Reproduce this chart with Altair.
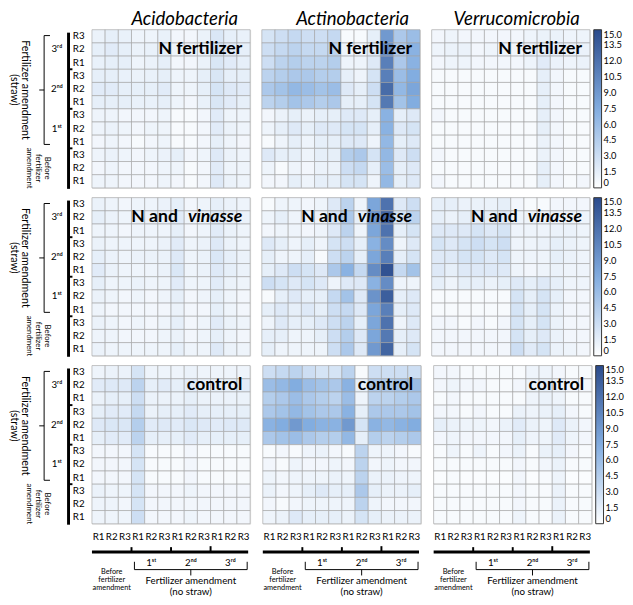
import altair as alt
import pandas as pd

FONT = "Lato"
W, H = 162, 162

TITLES = ["Acidobacteria", "Actinobacteria", "Verrucomicrobia"]
TREATMENTS = ["N fertilizer", "N and vinasse", "control"]
REPS = ["R1", "R2", "R3"]
GROUP_LABELS = ["1ˢᵗ", "2ⁿᵈ", "3ʳᵈ"]
LEGEND_TICKS = [0, 1.5, 3.0, 4.5, 6.0, 7.5, 9.0, 10.5, 12.0, 13.5, 15.0]

# rows: top (3rd R3) -> bottom (Before R1); cols: left (Before R1) -> right (3rd R3)
acido_n = [
    [1.2, 1.5, 1.3, 1.0, 1.0, 1.3, 0.8, 0.8, 1.2, 2.2, 1.5, 1.3],
    [1.5, 1.8, 1.5, 1.2, 1.3, 1.5, 1.0, 1.0, 1.3, 2.5, 1.8, 1.5],
    [1.3, 1.5, 1.5, 1.0, 1.2, 1.5, 0.8, 0.8, 1.2, 2.3, 1.8, 1.5],
    [1.5, 1.5, 1.3, 1.2, 1.3, 1.5, 1.0, 1.0, 1.5, 2.3, 1.5, 1.5],
    [1.8, 1.8, 1.5, 1.5, 1.5, 1.8, 1.0, 1.0, 1.5, 2.5, 2.0, 1.8],
    [1.5, 1.5, 1.5, 1.3, 1.3, 1.5, 1.0, 0.8, 1.3, 2.3, 1.8, 1.5],
    [1.0, 1.0, 0.8, 0.8, 0.8, 1.0, 0.5, 0.5, 0.8, 1.8, 1.0, 1.0],
    [1.0, 1.2, 1.0, 0.8, 1.0, 1.0, 0.5, 0.5, 0.8, 1.8, 1.2, 1.0],
    [0.8, 1.0, 0.8, 0.5, 0.8, 1.0, 0.5, 0.5, 0.8, 1.5, 1.0, 0.8],
    [1.0, 1.2, 1.0, 0.8, 1.0, 1.2, 1.5, 0.8, 1.0, 2.0, 1.2, 1.0],
    [0.8, 1.0, 0.8, 0.8, 0.8, 1.0, 1.0, 0.5, 0.8, 1.8, 1.0, 1.0],
    [1.0, 1.0, 0.8, 0.8, 0.8, 1.0, 0.8, 0.5, 0.8, 2.0, 1.2, 1.0],
]
actino_n = [
    [2.5, 3.0, 3.5, 3.0, 3.0, 3.5, 0.5, 0.5, 1.5, 9.0, 5.0, 6.0],
    [3.0, 3.5, 4.0, 3.5, 3.5, 4.0, 1.0, 0.8, 2.0, 10.0, 5.0, 7.0],
    [3.0, 4.0, 4.5, 4.0, 4.0, 4.5, 1.0, 1.0, 2.0, 11.0, 5.0, 7.0],
    [4.0, 4.5, 5.0, 5.0, 4.5, 4.5, 1.5, 1.0, 2.5, 11.0, 6.0, 7.5],
    [5.0, 5.5, 6.5, 6.0, 5.5, 6.0, 2.0, 1.5, 3.0, 12.5, 6.5, 8.0],
    [4.0, 4.5, 5.5, 5.0, 4.5, 5.0, 1.5, 1.5, 2.5, 11.5, 5.5, 7.5],
    [0.8, 1.2, 1.5, 1.2, 1.5, 1.5, 2.0, 2.0, 1.5, 7.0, 1.5, 2.0],
    [1.0, 1.5, 2.0, 1.5, 2.0, 2.0, 2.5, 2.5, 1.5, 7.0, 2.0, 2.5],
    [0.5, 1.0, 1.5, 1.0, 1.5, 1.5, 2.0, 2.0, 1.0, 6.5, 1.5, 2.0],
    [2.0, 1.5, 1.5, 1.0, 1.5, 1.5, 4.5, 5.0, 2.5, 6.5, 2.0, 3.0],
    [1.0, 0.5, 1.0, 0.8, 1.2, 1.2, 3.0, 3.5, 1.5, 6.0, 1.5, 2.0],
    [0.8, 0.8, 1.5, 1.0, 1.5, 1.5, 2.5, 2.5, 1.0, 6.5, 1.5, 2.0],
]
verruco_n = [
    [0.8, 1.0, 0.8, 0.8, 0.8, 0.8, 0.8, 1.0, 1.2, 1.2, 1.0, 1.0],
    [1.0, 1.2, 1.2, 0.8, 1.0, 1.0, 0.8, 1.2, 1.5, 1.5, 1.2, 1.2],
    [0.8, 1.0, 1.0, 0.8, 0.8, 0.8, 0.8, 1.0, 1.8, 1.2, 1.0, 1.2],
    [0.5, 0.5, 0.5, 0.5, 0.5, 0.5, 0.5, 0.5, 1.5, 0.8, 0.5, 0.5],
    [0.5, 0.5, 0.5, 0.5, 0.5, 0.5, 0.5, 0.5, 1.5, 0.8, 0.5, 0.5],
    [0.5, 0.5, 0.5, 0.5, 0.5, 0.5, 0.5, 0.5, 1.5, 0.8, 0.5, 0.5],
    [0.8, 0.5, 0.5, 0.5, 0.5, 0.5, 0.5, 0.5, 1.5, 0.8, 0.5, 0.5],
    [0.5, 0.5, 0.5, 0.5, 0.5, 0.5, 0.5, 0.5, 1.5, 0.8, 0.5, 0.5],
    [0.5, 0.5, 0.5, 0.5, 0.5, 0.5, 0.5, 0.5, 1.2, 0.8, 0.5, 0.5],
    [0.8, 0.5, 0.5, 0.5, 0.5, 0.5, 0.5, 0.5, 1.2, 0.8, 0.5, 0.5],
    [0.5, 0.5, 0.5, 0.5, 0.5, 0.5, 0.5, 0.5, 1.5, 0.8, 0.5, 0.5],
    [0.8, 0.5, 0.5, 0.5, 0.5, 0.5, 0.5, 0.5, 1.5, 0.8, 0.5, 0.8],
]
acido_v = [
    [1.2, 1.0, 0.8, 1.0, 1.0, 1.2, 1.5, 0.8, 1.0, 1.5, 1.2, 1.0],
    [1.5, 1.2, 1.0, 1.2, 1.2, 1.5, 1.8, 1.0, 1.2, 2.0, 1.5, 1.2],
    [1.0, 1.0, 0.8, 1.0, 1.0, 1.0, 1.5, 0.8, 1.0, 1.8, 1.2, 1.0],
    [1.2, 1.0, 1.0, 1.0, 1.0, 1.2, 1.8, 1.0, 1.2, 2.0, 1.2, 1.0],
    [1.5, 1.2, 1.0, 1.2, 1.2, 1.2, 2.0, 1.0, 1.2, 2.2, 1.5, 1.2],
    [1.8, 1.2, 1.0, 1.0, 1.0, 1.2, 2.2, 1.0, 1.2, 2.0, 1.5, 1.2],
    [1.5, 1.0, 1.0, 1.2, 1.0, 1.0, 1.8, 1.0, 1.0, 1.8, 1.2, 1.0],
    [1.2, 1.0, 0.8, 1.0, 0.8, 1.0, 1.5, 0.8, 1.0, 1.5, 1.0, 0.8],
    [1.0, 0.8, 0.8, 0.8, 0.8, 0.8, 1.2, 0.8, 0.8, 1.5, 1.0, 0.8],
    [1.2, 1.0, 0.8, 1.0, 0.8, 1.0, 1.5, 0.8, 1.0, 1.8, 1.2, 1.0],
    [1.0, 1.0, 0.8, 0.8, 0.8, 1.0, 1.2, 0.8, 1.0, 1.5, 1.0, 0.8],
    [1.2, 1.0, 1.0, 1.0, 1.0, 1.0, 1.5, 1.0, 1.0, 2.0, 1.2, 1.0],
]
actino_v = [
    [0.5, 1.0, 1.0, 0.8, 1.0, 2.0, 4.0, 1.0, 8.0, 12.0, 2.0, 3.0],
    [1.0, 1.5, 1.0, 1.0, 1.0, 2.5, 5.0, 1.5, 9.0, 13.0, 2.5, 4.0],
    [0.8, 1.0, 1.0, 0.8, 1.0, 2.0, 4.0, 1.0, 8.0, 12.0, 1.5, 2.5],
    [2.0, 1.5, 1.0, 1.5, 1.0, 2.5, 3.0, 1.5, 7.0, 10.0, 1.0, 2.0],
    [1.5, 1.0, 1.0, 1.5, 0.5, 3.0, 4.0, 1.5, 8.0, 11.0, 1.5, 2.5],
    [1.5, 2.0, 3.0, 2.5, 2.0, 5.0, 7.0, 3.5, 10.0, 14.5, 3.5, 5.5],
    [3.0, 2.5, 2.0, 2.5, 2.0, 1.0, 2.0, 2.0, 7.0, 10.0, 1.0, 1.0],
    [0.5, 1.5, 2.0, 1.5, 1.5, 3.5, 5.5, 2.0, 9.5, 13.5, 1.5, 2.0],
    [1.5, 2.0, 1.5, 2.0, 1.5, 3.0, 3.5, 2.0, 8.0, 11.0, 1.5, 2.0],
    [1.0, 2.0, 1.5, 1.5, 2.0, 3.0, 4.0, 1.5, 8.0, 12.0, 1.0, 2.0],
    [1.5, 1.5, 1.0, 1.0, 1.5, 3.0, 4.5, 2.0, 8.0, 11.5, 1.5, 2.0],
    [1.5, 1.0, 1.0, 1.0, 1.0, 3.0, 5.0, 2.0, 9.0, 13.0, 1.5, 2.5],
]
verruco_v = [
    [1.5, 1.5, 1.2, 1.2, 1.2, 1.5, 0.8, 0.5, 0.5, 0.8, 0.8, 0.8],
    [1.5, 1.2, 1.5, 1.5, 1.5, 2.0, 1.0, 1.0, 1.0, 1.0, 1.0, 1.0],
    [2.0, 2.0, 2.0, 2.5, 2.0, 2.5, 1.0, 1.0, 1.0, 1.2, 1.2, 1.0],
    [2.5, 2.0, 2.5, 3.0, 2.5, 3.0, 1.0, 1.0, 1.2, 1.5, 1.2, 1.0],
    [2.0, 2.0, 2.5, 2.5, 2.0, 2.5, 1.0, 1.0, 1.0, 1.5, 1.2, 1.0],
    [2.0, 1.5, 2.0, 2.0, 2.0, 2.0, 1.0, 0.8, 1.0, 1.2, 1.0, 1.0],
    [1.5, 1.0, 1.5, 1.5, 1.2, 1.5, 2.0, 1.5, 2.0, 1.5, 1.0, 1.0],
    [0.5, 0.5, 0.5, 0.5, 0.5, 0.5, 2.5, 1.5, 2.5, 1.5, 0.8, 0.8],
    [0.5, 0.5, 0.5, 0.5, 0.5, 0.5, 2.5, 1.5, 2.5, 1.2, 0.8, 0.8],
    [0.8, 0.8, 0.5, 0.8, 0.5, 0.8, 2.5, 1.5, 2.5, 1.2, 0.8, 0.8],
    [0.8, 0.8, 0.8, 0.8, 0.8, 0.8, 2.5, 1.5, 2.0, 1.2, 0.8, 0.8],
    [0.8, 0.8, 0.8, 0.8, 0.8, 0.8, 3.0, 1.8, 2.5, 1.2, 1.0, 0.8],
]
acido_c = [
    [1.0, 1.2, 1.2, 2.5, 1.0, 1.0, 1.0, 1.2, 1.0, 1.0, 1.0, 1.0],
    [1.8, 2.0, 2.0, 4.0, 1.5, 1.8, 1.5, 1.8, 1.5, 1.5, 1.5, 1.8],
    [1.2, 1.5, 1.5, 3.0, 1.2, 1.2, 1.2, 1.5, 1.2, 1.2, 1.2, 1.2],
    [1.5, 1.8, 1.8, 3.5, 1.2, 1.5, 1.5, 1.8, 1.5, 1.5, 1.5, 1.5],
    [2.0, 2.2, 2.2, 4.5, 1.8, 2.0, 1.8, 2.2, 2.0, 1.8, 2.0, 2.0],
    [1.5, 1.8, 1.8, 4.0, 1.5, 1.5, 1.5, 1.8, 1.5, 1.5, 1.5, 1.5],
    [0.8, 0.8, 0.8, 2.5, 0.5, 0.5, 0.5, 0.8, 0.5, 0.5, 0.5, 0.5],
    [0.8, 0.8, 0.8, 2.5, 0.5, 0.5, 0.5, 0.8, 0.5, 0.5, 0.5, 0.5],
    [0.8, 0.8, 0.8, 2.5, 0.5, 0.5, 0.5, 0.8, 0.5, 0.5, 0.5, 0.5],
    [1.2, 1.0, 1.0, 2.5, 0.8, 0.8, 0.8, 1.0, 0.8, 0.8, 0.8, 0.8],
    [1.0, 1.0, 0.8, 2.5, 0.8, 0.8, 0.8, 0.8, 0.8, 0.8, 0.8, 0.8],
    [1.0, 1.0, 1.0, 3.0, 0.8, 0.8, 0.8, 1.0, 0.8, 0.8, 0.8, 0.8],
]
actino_c = [
    [3.0, 3.5, 4.0, 3.0, 2.5, 2.5, 4.0, 0.5, 3.0, 3.0, 3.0, 3.0],
    [6.0, 6.5, 7.5, 6.0, 5.5, 5.0, 7.0, 1.5, 5.0, 5.0, 5.5, 6.0],
    [4.5, 5.0, 6.0, 5.0, 4.5, 4.0, 6.0, 1.0, 4.0, 4.0, 4.5, 5.0],
    [5.0, 5.5, 6.5, 5.5, 5.0, 5.0, 7.0, 1.5, 5.0, 5.0, 5.0, 5.5],
    [7.0, 7.5, 9.0, 7.5, 7.0, 7.0, 9.0, 2.5, 7.0, 6.5, 7.0, 7.5],
    [5.0, 5.5, 6.0, 5.0, 4.5, 4.5, 6.5, 1.5, 4.5, 4.0, 4.5, 5.0],
    [0.5, 0.8, 0.5, 1.0, 1.2, 0.8, 0.5, 4.0, 1.0, 1.0, 0.8, 0.5],
    [0.8, 0.5, 1.0, 0.8, 0.8, 1.0, 0.8, 4.0, 0.8, 1.0, 0.8, 0.8],
    [1.0, 0.8, 1.0, 1.0, 1.0, 1.2, 1.0, 4.0, 1.2, 1.2, 1.0, 1.0],
    [1.2, 0.8, 1.0, 1.5, 2.0, 1.5, 1.5, 5.0, 1.5, 1.2, 1.2, 1.5],
    [0.8, 0.5, 0.8, 1.0, 1.0, 1.0, 1.0, 4.0, 1.0, 0.8, 0.8, 0.8],
    [1.0, 1.2, 2.0, 1.5, 1.5, 1.5, 1.2, 2.5, 1.5, 1.2, 1.2, 1.2],
]
verruco_c = [
    [0.8, 0.8, 0.5, 0.5, 0.5, 0.5, 0.5, 1.0, 1.0, 0.8, 0.5, 0.5],
    [0.8, 1.0, 0.8, 0.8, 0.5, 0.5, 0.8, 1.2, 1.5, 1.0, 0.8, 0.8],
    [0.5, 0.8, 0.5, 0.5, 0.5, 0.5, 0.5, 1.0, 1.2, 1.0, 0.5, 0.5],
    [0.8, 0.8, 0.5, 0.8, 0.5, 0.5, 1.2, 1.0, 1.2, 1.5, 0.8, 0.5],
    [1.5, 1.2, 1.0, 1.0, 0.8, 1.2, 1.8, 1.2, 1.0, 2.0, 1.2, 0.8],
    [0.8, 1.0, 0.8, 0.8, 0.8, 0.8, 1.5, 1.0, 1.0, 1.8, 1.0, 0.8],
    [0.5, 1.0, 0.5, 1.0, 0.5, 0.8, 1.2, 0.5, 1.2, 1.5, 0.8, 0.5],
    [0.5, 0.5, 0.5, 0.5, 0.5, 0.5, 0.8, 0.5, 0.8, 1.2, 0.5, 0.5],
    [0.3, 0.5, 0.3, 0.3, 0.3, 0.3, 0.8, 0.3, 0.5, 1.0, 0.3, 0.3],
    [0.5, 0.5, 0.5, 0.5, 0.5, 0.5, 0.8, 0.5, 0.5, 1.2, 0.5, 0.5],
    [0.5, 0.5, 0.5, 0.5, 0.5, 0.5, 0.8, 0.5, 0.5, 1.2, 0.5, 0.5],
    [0.5, 0.5, 0.5, 0.5, 0.5, 0.5, 1.0, 0.5, 0.5, 1.2, 0.5, 0.5],
]

MATRICES = [
    [acido_n, actino_n, verruco_n],
    [acido_v, actino_v, verruco_v],
    [acido_c, actino_c, verruco_c],
]

COLOR_SCALE = alt.Scale(domain=[0, 7.5, 15], range=["#ffffff", "#82ade0", "#2b4b8c"], interpolate="rgb")
LABEL_EXPR = "['R1','R2','R3'][datum.value % 3]"
TITLE_SHIFT = [14, 12, 6]


def cells(mat):
    recs = []
    for r, row in enumerate(mat):
        for c, v in enumerate(row):
            recs.append({"row": 11 - r, "col": c, "value": v})
    return pd.DataFrame(recs)


def heat(mat, left, bottom, legend_on):
    ax_common = dict(title=None, labelExpr=LABEL_EXPR, ticks=False, domain=False,
                     labelFontSize=10, labelFont=FONT, labelColor="black", grid=False)
    xaxis = alt.Axis(labelAngle=0, labelPadding=8, **ax_common) if bottom else None
    yaxis = alt.Axis(labelPadding=8, **ax_common) if left else None
    legend = alt.Legend(title=None, orient="right", direction="vertical", gradientLength=H,
                        gradientThickness=8, values=LEGEND_TICKS,
                        labelExpr="datum.value == 0 ? '0' : format(datum.value, '.1f')",
                        labelFontSize=9.5, labelFont=FONT, labelColor="black", offset=4,
                        padding=0, gradientStrokeColor="#333", gradientStrokeWidth=1,
                        labelOffset=2, labelOverlap=False)
    return alt.Chart(cells(mat)).mark_rect(stroke="#a0a0a0", strokeWidth=0.6).encode(
        x=alt.X("col:O", scale=alt.Scale(domain=list(range(12)), paddingInner=0, paddingOuter=0), axis=xaxis),
        y=alt.Y("row:O", scale=alt.Scale(domain=list(range(11, -1, -1)), paddingInner=0, paddingOuter=0), axis=yaxis),
        color=alt.Color("value:Q", scale=COLOR_SCALE, legend=legend if legend_on else None),
    )


def text_layer(df, size, line_height, style="normal", weight="normal"):
    return alt.Chart(df).mark_text(font=FONT, fontSize=size, lineHeight=line_height, lineBreak="\n",
                                   align="center", baseline="middle", fontStyle=style,
                                   fontWeight=weight, color="black").encode(
        x=alt.X("x:Q", scale=None, axis=None),
        y=alt.Y("y:Q", scale=None, axis=None),
        text="t:N",
        angle=alt.Angle("a:Q", scale=None),
    )


def rule_layer(df):
    return alt.Chart(df).mark_rule(color="black").encode(
        x=alt.X("x:Q", scale=None, axis=None), x2="x2:Q",
        y=alt.Y("y:Q", scale=None, axis=None), y2="y2:Q",
        strokeWidth=alt.StrokeWidth("sw:Q", scale=None, legend=None),
    )


def label_layers(name):
    def one(t, xr, style):
        return alt.Chart(pd.DataFrame({"t": [t]})).mark_text(
            font=FONT, fontSize=18, fontWeight="bold", fontStyle=style, align="right",
            baseline="alphabetic", color="black").encode(
            x=alt.value(xr), y=alt.value(25), text="t:N")
    if name == "N and vinasse":
        return [one("vinasse", W - 8, "italic"), one("N and", W - 8 - 66, "normal")]
    return [one(name, W - 8, "normal")]


def left_decor():
    g = H / 12
    top, bot = 6, 9 * g - 4
    rules = pd.DataFrame([
        {"x": -24, "x2": -24, "y": 3, "y2": H + 1, "sw": 3},
        {"x": -24, "x2": -20, "y": 3 * g, "y2": 3 * g, "sw": 2},
        {"x": -24, "x2": -20, "y": 6 * g, "y2": 6 * g, "sw": 2},
        {"x": -24, "x2": -20, "y": 9 * g, "y2": 9 * g, "sw": 2},
        {"x": -49, "x2": -49, "y": top, "y2": bot, "sw": 1},
        {"x": -49, "x2": -43, "y": top, "y2": top, "sw": 1},
        {"x": -49, "x2": -43, "y": bot, "y2": bot, "sw": 1},
        {"x": -54, "x2": -49, "y": (top + bot) / 2, "y2": (top + bot) / 2, "sw": 1},
    ])
    groups = pd.DataFrame({
        "x": [-36, -36, -36],
        "y": [1.5 * g, 4.5 * g, 7.5 * g],
        "t": list(reversed(GROUP_LABELS)),
        "a": [0, 0, 0],
    })
    big = pd.DataFrame({"x": [-68.5], "y": [(top + bot) / 2],
                        "t": ["Fertilizer amendment\n(straw)"], "a": [90]})
    small = pd.DataFrame({"x": [-46], "y": [10.5 * g],
                          "t": ["Before\nfertilizer\namendment"], "a": [90]})
    return [rule_layer(rules), text_layer(groups, 10, 12), text_layer(big, 11, 11),
            text_layer(small, 8, 9.5)]


def bottom_decor():
    g = W / 12
    bx0 = 3 * g + 3
    bx1 = W - 3
    mid = (bx0 + bx1) / 2
    rules = pd.DataFrame([
        {"x": 0, "x2": W - 2, "y": H + 29, "y2": H + 29, "sw": 3},
        {"x": 3 * g, "x2": 3 * g, "y": H + 24, "y2": H + 29, "sw": 2},
        {"x": 6 * g, "x2": 6 * g, "y": H + 24, "y2": H + 29, "sw": 2},
        {"x": 9 * g, "x2": 9 * g, "y": H + 23, "y2": H + 29, "sw": 2},
        {"x": bx0, "x2": bx1, "y": H + 47, "y2": H + 47, "sw": 1},
        {"x": bx0, "x2": bx0, "y": H + 39, "y2": H + 47, "sw": 1},
        {"x": bx1, "x2": bx1, "y": H + 39, "y2": H + 47, "sw": 1},
        {"x": mid, "x2": mid, "y": H + 47, "y2": H + 53, "sw": 1},
    ])
    groups = pd.DataFrame({
        "x": [4.5 * g, 7.5 * g, 10.5 * g],
        "y": [H + 40, H + 40, H + 40],
        "t": GROUP_LABELS,
        "a": [0, 0, 0],
    })
    big = pd.DataFrame({"x": [mid], "y": [H + 59], "t": ["Fertilizer amendment\n(no straw)"], "a": [0]})
    small = pd.DataFrame({"x": [1.5 * g], "y": [H + 49], "t": ["Before\nfertilizer\namendment"], "a": [0]})
    return [rule_layer(rules), text_layer(groups, 10, 12), text_layer(big, 10, 11.5),
            text_layer(small, 7.5, 8.5)]


def title_layer(ci):
    return alt.Chart(pd.DataFrame({"t": [TITLES[ci]]})).mark_text(
        font=FONT, fontSize=19, fontStyle="italic", align="center", baseline="alphabetic",
        color="black").encode(x=alt.value(W / 2 + TITLE_SHIFT[ci]), y=alt.value(-5), text="t:N")


rows = []
for ri in range(3):
    panels = []
    for ci in range(3):
        layers = [heat(MATRICES[ri][ci], ci == 0, ri == 2, ci == 2)]
        layers += label_layers(TREATMENTS[ri])
        if ci == 0:
            layers += left_decor()
        if ri == 2:
            layers += bottom_decor()
        if ri == 0:
            layers.append(title_layer(ci))
        p = alt.layer(*layers).resolve_scale(x="independent", y="independent").properties(width=W, height=H)
        panels.append(p)
    rows.append(alt.hconcat(*panels, spacing=10).resolve_scale(color="independent"))

chart = alt.vconcat(*rows, spacing=6).resolve_scale(color="independent").properties(
    padding={"left": 0, "top": -6, "right": 0, "bottom": 0}
).configure_view(stroke="#444444", strokeWidth=1.2).configure(font=FONT)

chart.save("out.html", embed_options={"renderer": "svg", "actions": False})
